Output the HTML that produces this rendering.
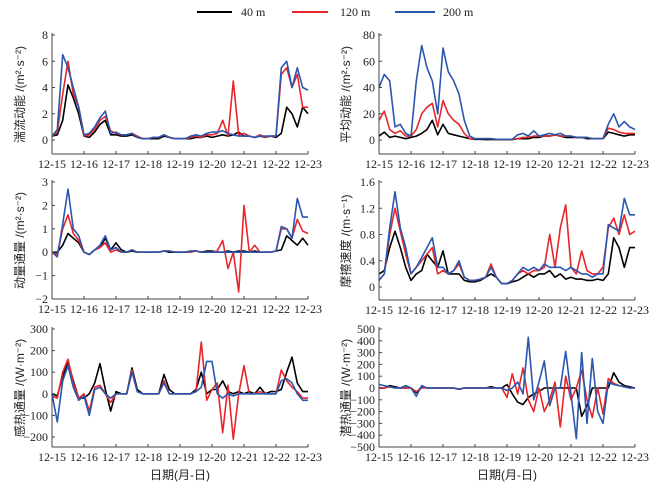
<!DOCTYPE html>
<html><head><meta charset="utf-8">
<style>
body{margin:0;background:#fff;}
svg{display:block;}
text{font-family:"Liberation Serif","Noto Serif CJK SC",serif;font-size:12px;fill:#222;}
.cjk{font-family:"Liberation Sans","Noto Sans CJK SC",sans-serif;font-size:12px;}
</style></head>
<body>
<svg id="chart" width="655" height="487">
  <g>
    <line x1="197" y1="12" x2="232" y2="12" stroke="#000" stroke-width="2"/>
    <text x="241" y="16">40 m</text>
    <line x1="292" y1="12" x2="328" y2="12" stroke="#e8262a" stroke-width="2"/>
    <text x="340" y="16">120 m</text>
    <line x1="395" y1="12" x2="435" y2="12" stroke="#2a56b0" stroke-width="2"/>
    <text x="443" y="16">200 m</text>
  </g>
  <text class="cjk" x="180" y="479" text-anchor="middle">日期(月-日)</text>
  <text class="cjk" x="507" y="479" text-anchor="middle">日期(月-日)</text>
</svg>
<script>
const dateLabels=["12-15","12-16","12-17","12-18","12-19","12-20","12-21","12-22","12-23"];
const seriesColors=["#000000","#e8262a","#2a56b0"];
const seriesNames=["40m","120m","200m"];

const tkeBlack=[0.3,0.4,1.5,4.2,3.2,2.0, 0.3,0.2,0.6,1.2,1.5,0.4, 0.4,0.3,0.3,0.4,0.2,0.1, 0.1,0.1,0.1,0.3,0.2,0.1, 0.1,0.1,0.1,0.2,0.2,0.3, 0.2,0.3,0.4,0.3,0.4,0.6, 0.3,0.3,0.2,0.3,0.2,0.3, 0.2,0.5,2.5,2.0,1.0,2.5, 2.0];
const tkeRed=[0.3,0.6,3.5,6.0,3.5,2.5, 0.3,0.4,0.8,1.5,1.8,0.7, 0.5,0.4,0.4,0.5,0.3,0.1, 0.1,0.2,0.2,0.4,0.2,0.1, 0.1,0.1,0.2,0.3,0.2,0.4, 0.4,0.5,1.5,0.3,4.5,0.4, 0.5,0.3,0.2,0.4,0.2,0.3, 0.3,5.0,5.5,4.0,5.0,2.5, 2.5];
const tkeBlue=[0.3,0.8,6.5,5.5,4.0,2.5, 0.4,0.5,1.0,1.7,2.2,0.5, 0.6,0.4,0.4,0.5,0.2,0.1, 0.1,0.2,0.2,0.4,0.2,0.1, 0.1,0.1,0.3,0.4,0.3,0.5, 0.6,0.6,0.7,0.5,0.4,0.3, 0.3,0.3,0.2,0.3,0.3,0.3, 0.3,5.5,6.0,4.0,5.5,4.0, 3.8];

const mkeBlack=[3,6,2,3,2,1, 2,3,5,8,15,4, 12,5,4,3,2,1, 0.5,0.5,0.3,0.3,0.3,0.3, 0.3,0.3,1,1,1,2, 2,3,3,4,3,2, 2,2,2,1,1,1, 1,6,5,4,3,4, 4];
const mkeRed=[15,22,8,5,7,3, 3,8,20,25,28,10, 30,20,15,12,5,1, 1,1,1,1,0.5,0.5, 0.5,0.5,1,2,2,3, 3,3,3,4,3,3, 3,2,2,2,1,1, 1,9,8,6,5,5, 5];
const mkeBlue=[40,50,45,10,12,5, 3,45,72,55,45,20, 70,52,45,35,15,3, 1,1,1,1,0.5,0.5, 0.5,0.5,4,5,3,7, 3,4,5,4,5,3, 3,2,2,2,1,1, 1,12,20,10,14,10, 8];

const momBlack=[0,0,0.3,0.8,0.6,0.4, 0,-0.1,0.1,0.2,0.6,0.1, 0.4,0.1,0,0.05,0,0, 0,0,0,0.05,0,0, 0,0,0.05,0.05,0,0.05, 0.05,0,0,0.05,0,0.05, 0.05,0,0.05,0,0,0, 0.05,0.1,0.7,0.5,0.3,0.6, 0.3];
const momRed=[0,-0.1,1.0,1.6,0.8,0.5, 0,-0.1,0.1,0.2,0.4,0, 0.1,0,0,0.1,0,0, 0,0,0,0.05,0.05,0, 0,0,0,0.05,0,0, 0,0.05,0.5,-0.7,0,-1.7, 2.0,0,0.3,0,0,0, 0.05,1.0,1.0,0.6,1.4,0.9, 0.8];
const momBlue=[0,-0.2,1.2,2.7,1.0,0.7, 0,-0.1,0.1,0.3,0.7,0.1, 0.2,0,0,0.1,0,0, 0,0,0,0.05,0.05,0, 0,0,0.05,0.05,0,0, 0,0,0,0,0,0, 0,0,0,0,0,0, 0.05,1.1,1.0,0.6,2.3,1.5, 1.5];

const ustBlack=[0.2,0.25,0.6,0.85,0.6,0.3, 0.1,0.2,0.25,0.5,0.4,0.3, 0.55,0.2,0.2,0.2,0.1,0.08, 0.08,0.1,0.15,0.2,0.15,0.05, 0.05,0.08,0.1,0.15,0.2,0.15, 0.2,0.2,0.25,0.15,0.2,0.12, 0.15,0.12,0.12,0.1,0.1,0.12, 0.1,0.2,0.75,0.6,0.3,0.6, 0.6];
const ustRed=[0.1,0.2,0.8,1.2,0.85,0.5, 0.2,0.3,0.4,0.5,0.6,0.2, 0.25,0.2,0.25,0.35,0.15,0.1, 0.1,0.12,0.15,0.35,0.15,0.05, 0.05,0.1,0.2,0.25,0.2,0.25, 0.25,0.3,0.8,0.3,0.9,1.25, 0.3,0.2,0.55,0.25,0.2,0.2, 0.3,0.9,1.05,0.8,1.1,0.8, 0.85];
const ustBlue=[0.1,0.2,0.9,1.45,0.9,0.6, 0.2,0.3,0.45,0.6,0.75,0.3, 0.3,0.2,0.25,0.4,0.15,0.1, 0.1,0.12,0.15,0.3,0.15,0.05, 0.05,0.1,0.2,0.3,0.25,0.3, 0.25,0.35,0.3,0.3,0.3,0.25, 0.3,0.25,0.2,0.2,0.15,0.2, 0.2,0.95,0.9,0.85,1.35,1.1, 1.1];

const shBlack=[0,-10,80,150,60,-20, -20,0,50,140,20,-80, 10,0,0,120,20,0, 0,0,0,90,20,0, 0,0,0,20,100,0, 20,20,60,10,0,10, 0,10,0,30,0,10, 10,20,100,170,50,10, 10];
const shRed=[-10,-20,100,160,50,-20, 0,-80,30,40,0,-40, 0,0,0,110,10,0, 0,0,0,60,0,0, 0,0,0,10,240,-30, 20,50,-180,40,-210,0, 130,0,0,10,0,0, 0,110,60,30,10,-20, -20];
const shBlue=[0,-130,60,130,30,-30, -10,-100,20,30,0,-20, 0,0,0,100,10,0, 0,0,0,50,0,0, 0,0,0,10,30,150, 150,0,-20,0,-10,0, 0,0,0,0,0,0, 0,60,70,50,0,-30, -30];

const lhBlack=[0,0,20,10,0,0, 0,-40,10,0,0,0, 0,0,0,-10,0,0, 0,0,0,10,0,0, 30,-50,-120,-140,-80,-50, -30,0,0,0,0,0, 0,0,-240,-150,0,0, 0,0,130,50,20,10, 0];
const lhRed=[0,0,10,0,0,0, 0,-30,0,0,0,0, 0,0,0,-10,0,0, 0,0,0,0,0,0, -80,120,-50,170,-100,-200, 0,-200,-100,50,-330,100, -100,0,150,-100,-250,0, -220,80,40,20,10,0, 0];
const lhBlue=[30,20,10,0,0,20, 0,-70,20,0,0,0, 0,0,0,-10,0,0, 0,0,0,0,0,0, -20,0,50,-50,430,-100, 50,230,-150,0,0,310, -50,-430,300,-300,250,-200, -300,50,30,20,10,0, 0];

const tkeTicks=[0,2,4,6,8];
const mkeTicks=[0,20,40,60,80];
const momTicks=[-2,-1,0,1,2,3];
const ustTicks=[0,0.4,0.8,1.2,1.6];
const shTicks=[-200,-100,0,100,200,300];
const lhTicks=[-500,-400,-300,-200,-100,0,100,200,300,400,500];

const NS="http://www.w3.org/2000/svg";
const svg=document.getElementById("chart");
function mk(tag,attrs,parent){const e=document.createElementNS(NS,tag);for(const k in attrs)e.setAttribute(k,attrs[k]);(parent||svg).appendChild(e);return e;}

const panels=[
 {id:"tke",x0:52,x1:308,vTop:8,pTop:35,vBot:0,pBot:140,axisY:154,ticks:tkeTicks,fmt:v=>v,series:[tkeBlack,tkeRed,tkeBlue],title:"湍流动能 /(m²·s⁻²)",tx:24},
 {id:"mke",x0:379,x1:635,vTop:80,pTop:35,vBot:0,pBot:140,axisY:154,ticks:mkeTicks,fmt:v=>v,series:[mkeBlack,mkeRed,mkeBlue],title:"平均动能 /(m²·s⁻²)",tx:350},
 {id:"momentum-flux",x0:52,x1:308,vTop:3,pTop:182,vBot:-2,pBot:299,axisY:299,ticks:momTicks,fmt:v=>v<0?"−"+(-v):v,series:[momBlack,momRed,momBlue],title:"动量通量 /(m²·s⁻²)",tx:24},
 {id:"friction-velocity",x0:379,x1:635,vTop:1.6,pTop:182,vBot:0,pBot:287,axisY:300,ticks:ustTicks,fmt:v=>v===0?"0":v.toFixed(1),series:[ustBlack,ustRed,ustBlue],title:"摩擦速度 /(m·s⁻¹)",tx:350},
 {id:"sensible-heat",x0:52,x1:308,vTop:300,pTop:329,vBot:-200,pBot:437,axisY:447,ticks:shTicks,fmt:v=>v<0?"−"+(-v):v,series:[shBlack,shRed,shBlue],title:"感热通量 /(W·m⁻²)",tx:24},
 {id:"latent-heat",x0:379,x1:635,vTop:500,pTop:329,vBot:-500,pBot:447,axisY:447,ticks:lhTicks,fmt:v=>v<0?"−"+(-v):v,series:[lhBlack,lhRed,lhBlue],title:"潜热通量 /(W·m⁻²)",tx:350}
];

panels.forEach(p=>{
  const g=mk("g",{});
  
  
  const ys=v=>p.pBot+(v-p.vBot)*(p.pTop-p.pBot)/(p.vTop-p.vBot);
  const n=dateLabels.length-1;
  const xs=d=>p.x0+d*(p.x1-p.x0)/n;
  p.series.forEach((arr,si)=>{
    const per=(arr.length-1)/n;
    let d="";
    arr.forEach((v,i)=>{d+=(i?"L":"M")+xs(i/per).toFixed(1)+","+ys(v).toFixed(1);});
    const path=mk("path",{d:d,fill:"none",stroke:seriesColors[si],"stroke-width":"1.6","stroke-linejoin":"round"},g);
    
    
  });
  const ya=mk("line",{x1:p.x0,y1:p.pTop-2,x2:p.x0,y2:p.axisY,stroke:"#444","stroke-width":"1"},g);
  
  
  const xa=mk("line",{x1:p.x0,y1:p.axisY,x2:p.x1,y2:p.axisY,stroke:"#444","stroke-width":"1"},g);
  
  
  p.ticks.forEach(v=>{
    const y=ys(v);
    mk("line",{x1:p.x0,y1:y,x2:p.x0+3,y2:y,stroke:"#444"},g);
    const t=mk("text",{x:p.x0-4,y:y+4,"text-anchor":"end"},g);
    t.textContent=p.fmt(v);
    
    
  });
  dateLabels.forEach((lab,i)=>{
    const x=xs(i);
    mk("line",{x1:x,y1:p.axisY,x2:x,y2:p.axisY-3,stroke:"#444"},g);
    const t=mk("text",{x:x,y:p.axisY+14,"text-anchor":"middle"},g);
    t.textContent=lab;
    
    
  });
  const cy=(p.pTop+p.axisY)/2;
  const tt=mk("text",{x:p.tx,y:cy,"text-anchor":"middle",transform:"rotate(-90 "+p.tx+" "+cy+")","class":"cjk"},g);
  tt.textContent=p.title;
  
  
});
</script>
</body></html>
